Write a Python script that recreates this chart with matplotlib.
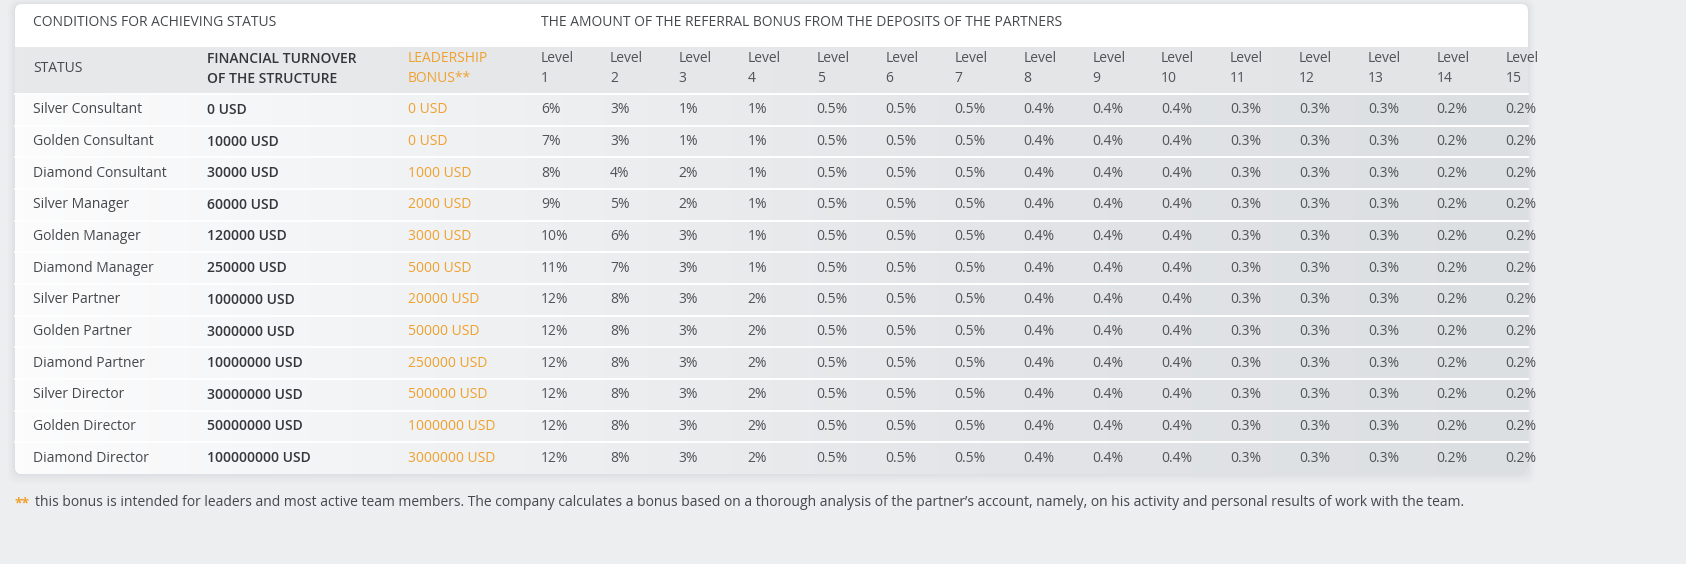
import numpy as np
import matplotlib
matplotlib.use("Agg")
import matplotlib.pyplot as plt
from matplotlib.patches import FancyBboxPatch

plt.rcParams['font.family'] = ['Open Sans', 'DejaVu Sans']

# table data
statuses = ["Silver Consultant", "Golden Consultant", "Diamond Consultant",
            "Silver Manager", "Golden Manager", "Diamond Manager",
            "Silver Partner", "Golden Partner", "Diamond Partner",
            "Silver Director", "Golden Director", "Diamond Director"]
turnover = [0, 10000, 30000, 60000, 120000, 250000, 1000000, 3000000,
            10000000, 30000000, 50000000, 100000000]
leadership = [0, 0, 1000, 2000, 3000, 5000, 20000, 50000, 250000,
              500000, 1000000, 3000000]
level1 = [6, 7, 8, 9, 10, 11, 12, 12, 12, 12, 12, 12]
level2 = [3, 3, 4, 5, 6, 7, 8, 8, 8, 8, 8, 8]
level3 = [1, 1, 2, 2, 3, 3, 3, 3, 3, 3, 3, 3]
level4 = [1, 1, 1, 1, 1, 1, 2, 2, 2, 2, 2, 2]
levels_5_15 = [0.5, 0.5, 0.5, 0.4, 0.4, 0.4, 0.3, 0.3, 0.3, 0.2, 0.2]
level_names = [str(i) for i in range(1, 16)]

title_left = "CONDITIONS FOR ACHIEVING STATUS"
title_right = "THE AMOUNT OF THE REFERRAL BONUS FROM THE DEPOSITS OF THE PARTNERS"
note = ("this bonus is intended for leaders and most active team members. "
        "The company calculates a bonus based on a thorough analysis of the "
        "partner\u2019s account, namely, on his activity and personal results "
        "of work with the team.")

W, H = 1686, 564
ORANGE = "#f0a12e"
TXT = "#505357"
DARK = "#33363a"

fig = plt.figure(figsize=(W / 100, H / 100), dpi=100, facecolor="#eceef0")
ax = fig.add_axes([0, 0, 1, 1])
ax.set_xlim(0, W)
ax.set_ylim(H, 0)
ax.axis("off")

card_x0, card_x1 = 15, 1528
card_y0, card_y1 = 4, 474

# soft shadow under the card
for k, a in zip([14, 10, 6, 3], [0.025, 0.03, 0.035, 0.04]):
    ax.add_patch(FancyBboxPatch((card_x0 - k / 2, card_y0 - k / 3),
                                card_x1 - card_x0 + k, card_y1 - card_y0 + k,
                                boxstyle="round,pad=0,rounding_size=10",
                                fc="#8a8f96", ec="none", alpha=a, zorder=0.5))

card = FancyBboxPatch((card_x0, card_y0), card_x1 - card_x0, card_y1 - card_y0,
                      boxstyle="round,pad=0,rounding_size=7",
                      fc="white", ec="none", zorder=1)
ax.add_patch(card)

head_top, head_bot = 47, 94
row_h = (card_y1 - head_bot) / len(statuses)

# grey gradient for header band and body
grad = np.linspace(0, 1, 400)[None, :]
cmap_body = matplotlib.colors.LinearSegmentedColormap.from_list(
    "body", ["#fcfcfd", "#eef0f1", "#e2e4e7", "#dcdfe2"])
cmap_head = matplotlib.colors.LinearSegmentedColormap.from_list(
    "head", ["#e8e9eb", "#e6e7e9", "#e2e4e6"])
im = ax.imshow(grad, cmap=cmap_body, aspect="auto",
               extent=(card_x0, card_x1, card_y1, head_bot), zorder=2)
im.set_clip_path(card)
ax.imshow(grad, cmap=cmap_head, aspect="auto",
          extent=(card_x0, card_x1, head_bot, head_top), zorder=2)

# row separators
for i in range(len(statuses)):
    y = head_bot + i * row_h
    ax.plot([card_x0, card_x1], [y, y], color="white", lw=1.4, zorder=3)

fs = 10
ax.text(33, 23, title_left, fontsize=fs, color="#45484c", va="center", zorder=5)
ax.text(541, 23, title_right, fontsize=fs, color="#45484c", va="center", zorder=5)

# column header
ax.text(33, 69, "STATUS", fontsize=fs, color="#45484c", va="center", zorder=5)
ax.text(207, 59, "FINANCIAL TURNOVER", fontsize=fs, color=DARK,
        fontweight="semibold", va="center", zorder=5)
ax.text(207, 79, "OF THE STRUCTURE", fontsize=fs, color=DARK,
        fontweight="semibold", va="center", zorder=5)
ax.text(408, 59, "LEADERSHIP", fontsize=fs, color=ORANGE, va="center", zorder=5)
ax.text(408, 79, "BONUS**", fontsize=fs, color=ORANGE, va="center", zorder=5)

lvl_x0, lvl_dx = 541, 68.9
for j, name in enumerate(level_names):
    x = lvl_x0 + j * lvl_dx
    ax.text(x, 59, "Level", fontsize=fs, color=TXT, va="center", zorder=5)
    ax.text(x, 79, name, fontsize=fs, color=TXT, va="center", zorder=5)

# body rows
for i, st in enumerate(statuses):
    y = head_bot + (i + 0.5) * row_h
    ax.text(33, y, st, fontsize=fs, color="#45484c", va="center", zorder=5)
    ax.text(207, y, f"{turnover[i]} USD", fontsize=fs, color=DARK,
            fontweight="semibold", va="center", zorder=5)
    ax.text(408, y, f"{leadership[i]} USD", fontsize=fs, color=ORANGE,
            va="center", zorder=5)
    vals = [f"{level1[i]}%", f"{level2[i]}%", f"{level3[i]}%", f"{level4[i]}%"]
    vals += [f"{v}%" for v in levels_5_15]
    for j, v in enumerate(vals):
        ax.text(lvl_x0 + j * lvl_dx, y, v, fontsize=fs, color=TXT,
                va="center", zorder=5)

# footnote
ax.text(15, 503, "**", fontsize=fs, color=ORANGE, fontweight="bold",
        va="center", zorder=5)
ax.text(35, 503, note, fontsize=fs, color="#45484c", va="center", zorder=5)

fig.savefig("out.png", dpi=100, facecolor=fig.get_facecolor())
